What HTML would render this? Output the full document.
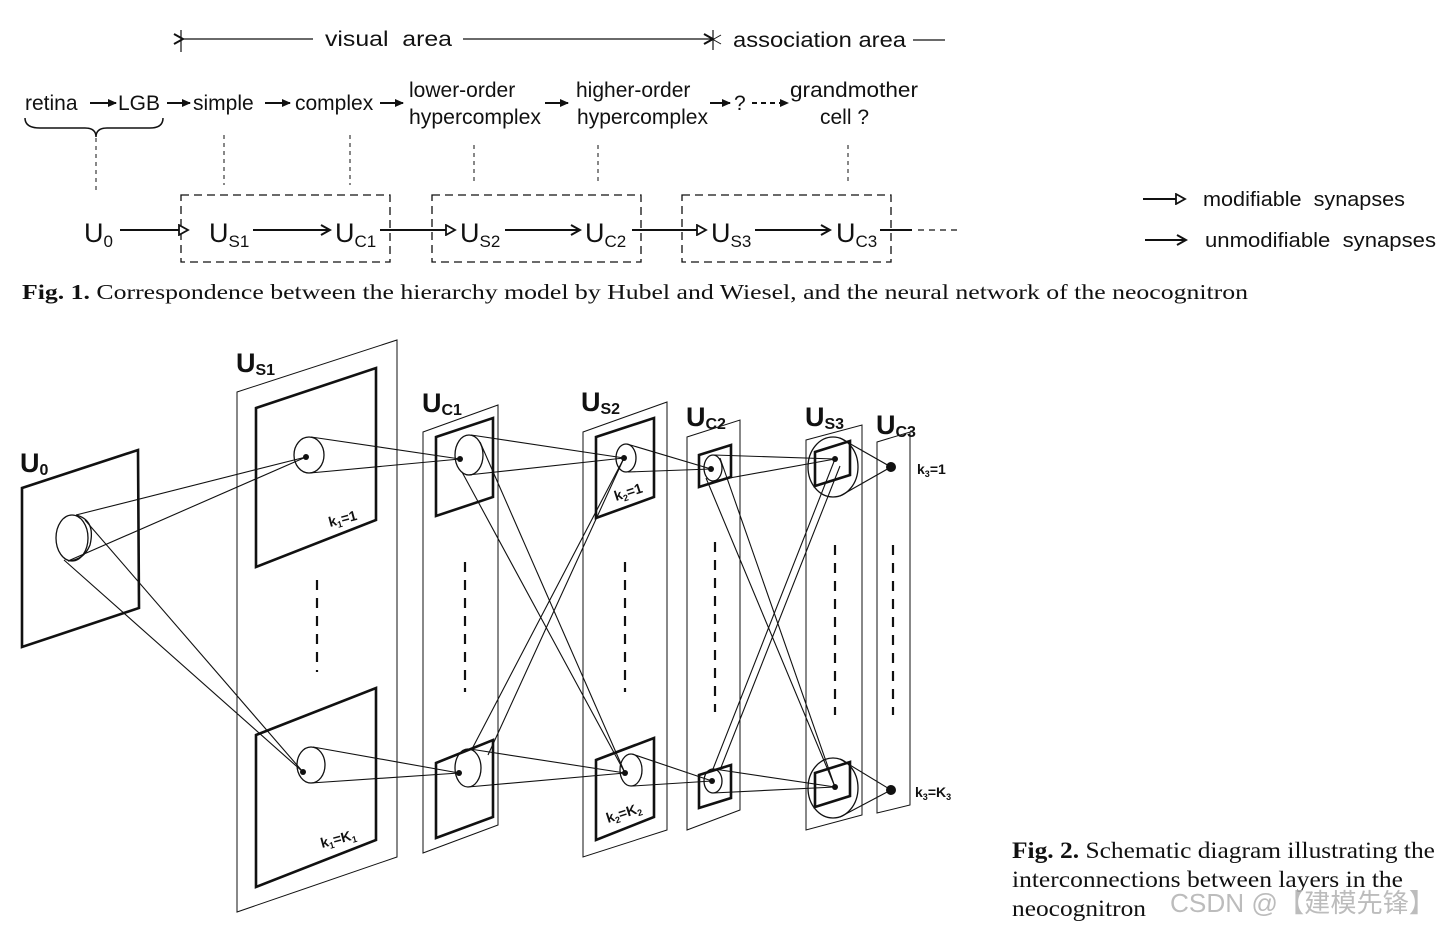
<!DOCTYPE html>
<html><head><meta charset="utf-8"><style>
html,body{margin:0;padding:0;background:#fff;}
svg{display:block}
.s{font-family:"Liberation Sans",sans-serif;fill:#111}
.r{font-family:"Liberation Serif",serif;fill:#111}
</style></head><body>
<svg width="1452" height="928" viewBox="0 0 1452 928" xmlns="http://www.w3.org/2000/svg">
<defs>
<marker id="open" markerWidth="12" markerHeight="12" refX="10" refY="6" orient="auto" markerUnits="userSpaceOnUse"><path d="M1,1 L10,6 L1,11 Z" fill="#fff" stroke="#111" stroke-width="1.8"/></marker>
<marker id="cl" markerWidth="12" markerHeight="12" refX="10" refY="6" orient="auto" markerUnits="userSpaceOnUse"><path d="M1,1 L10,6 L1,11" fill="none" stroke="#111" stroke-width="2"/></marker>
<marker id="sol" markerWidth="10" markerHeight="10" refX="8" refY="5" orient="auto" markerUnits="userSpaceOnUse"><path d="M0,1 L9,5 L0,9 Z" fill="#111"/></marker>
</defs>
<g stroke="#111" fill="none">
<line x1="181" y1="30" x2="181" y2="52" stroke-width="1.2"/>
<line x1="183" y1="39" x2="313" y2="39" stroke-width="1.2" marker-start="url(#cl)"/>
<line x1="463" y1="39" x2="713" y2="39" stroke-width="1.2" marker-end="url(#cl)"/>
<line x1="713" y1="30" x2="713" y2="50" stroke-width="1.2"/>
<line x1="705" y1="35" x2="721" y2="44" stroke-width="1"/><line x1="705" y1="44" x2="721" y2="35" stroke-width="1"/>
<line x1="913" y1="40" x2="945" y2="40" stroke-width="1.2"/>
<g stroke-width="2" marker-end="url(#sol)">
<line x1="90" y1="103" x2="116" y2="103"/>
<line x1="167" y1="103" x2="190" y2="103"/>
<line x1="265" y1="103" x2="290" y2="103"/>
<line x1="380" y1="103" x2="403" y2="103"/>
<line x1="545" y1="103" x2="568" y2="103"/>
<line x1="710" y1="103" x2="730" y2="103"/>
<line x1="752" y1="103" x2="788" y2="103" stroke-dasharray="5,4"/>
</g>
<path d="M25,118 Q25,128 40,128 L85,128 Q96,128 96,137 Q96,128 107,128 L150,128 Q163,128 163,118" stroke-width="1.5"/>
<g stroke-width="1" stroke-dasharray="4,4">
<line x1="96" y1="138" x2="96" y2="192"/>
<line x1="224" y1="135" x2="224" y2="185"/>
<line x1="350" y1="135" x2="350" y2="185"/>
<line x1="474" y1="145" x2="474" y2="183"/>
<line x1="598" y1="145" x2="598" y2="183"/>
<line x1="848" y1="145" x2="848" y2="183"/>
</g>
<g stroke-width="1.3" stroke-dasharray="8,5">
<rect x="181" y="195" width="209" height="67"/>
<rect x="432" y="195" width="209" height="67"/>
<rect x="682" y="195" width="209" height="67"/>
</g>
<g stroke-width="2">
<line x1="120" y1="230" x2="188" y2="230" marker-end="url(#open)"/>
<line x1="253" y1="230" x2="330" y2="230" marker-end="url(#cl)"/>
<line x1="380" y1="230" x2="455" y2="230" marker-end="url(#open)"/>
<line x1="505" y1="230" x2="580" y2="230" marker-end="url(#cl)"/>
<line x1="632" y1="230" x2="706" y2="230" marker-end="url(#open)"/>
<line x1="755" y1="230" x2="830" y2="230" marker-end="url(#cl)"/>
<line x1="880" y1="230" x2="912" y2="230"/>
<line x1="918" y1="230" x2="962" y2="230" stroke-width="1.3" stroke-dasharray="6,5"/>
<line x1="1143" y1="199" x2="1185" y2="199" marker-end="url(#open)"/>
<line x1="1145" y1="240" x2="1186" y2="240" marker-end="url(#cl)"/>
</g>
</g>
<g class="s" font-size="21">
<text x="325" y="46" textLength="127" lengthAdjust="spacingAndGlyphs">visual&#160; area</text>
<text x="733" y="47" textLength="173" lengthAdjust="spacingAndGlyphs">association area</text>
<text x="25" y="110">retina</text>
<text x="118" y="110">LGB</text>
<text x="193" y="110">simple</text>
<text x="295" y="110">complex</text>
<text x="409" y="97">lower-order</text>
<text x="409" y="124" textLength="132" lengthAdjust="spacingAndGlyphs">hypercomplex</text>
<text x="576" y="97">higher-order</text>
<text x="577" y="124" textLength="131" lengthAdjust="spacingAndGlyphs">hypercomplex</text>
<text x="734" y="110">?</text>
<text x="790" y="97" textLength="128" lengthAdjust="spacingAndGlyphs">grandmother</text>
<text x="820" y="124">cell ?</text>
<text x="1203" y="206" font-size="20" textLength="202" lengthAdjust="spacingAndGlyphs">modifiable&#160; synapses</text>
<text x="1205" y="247" font-size="20" textLength="231" lengthAdjust="spacingAndGlyphs">unmodifiable&#160; synapses</text>
</g>
<g class="s" font-size="27">
<text x="84" y="242">U<tspan font-size="17" dy="5">0</tspan></text>
<text x="209" y="242">U<tspan font-size="17" dy="5">S1</tspan></text>
<text x="335" y="242">U<tspan font-size="17" dy="5">C1</tspan></text>
<text x="460" y="242">U<tspan font-size="17" dy="5">S2</tspan></text>
<text x="585" y="242">U<tspan font-size="17" dy="5">C2</tspan></text>
<text x="711" y="242">U<tspan font-size="17" dy="5">S3</tspan></text>
<text x="836" y="242">U<tspan font-size="17" dy="5">C3</tspan></text>
</g>
<text class="r" x="22" y="299" font-size="21" textLength="1226" lengthAdjust="spacingAndGlyphs"><tspan font-weight="bold">Fig. 1.</tspan> Correspondence between the hierarchy model by Hubel and Wiesel, and the neural network of the neocognitron</text>

<g stroke="#111" fill="none">
<g stroke-width="1">
<polygon points="237,392 397,340 397,857 237,912"/>
<polygon points="423,432 498,405 498,825 423,853"/>
<polygon points="583,432 667,402 667,830 583,857"/>
<polygon points="687,437 740,420 740,810 687,830"/>
<polygon points="806,440 862,425 862,815 806,830"/>
<polygon points="877,442 910,432 910,805 877,813"/>
</g>
<g stroke-width="2.6">
<polygon points="22,488 138,450 139,608 22,647"/>
<polygon points="256,408 376,368 376,520 256,567"/>
<polygon points="256,735 376,688 376,840 256,887"/>
<polygon points="436,437 493,418 493,497 436,516"/>
<polygon points="436,763 493,740 493,817 436,838"/>
<polygon points="596,437 654,418 654,497 596,518"/>
<polygon points="596,760 654,738 654,817 596,840"/>
<polygon points="699,455 731,445 731,477 699,487"/>
<polygon points="699,775 731,765 731,798 699,808"/>
<polygon points="815,452 850,441 850,475 815,486"/>
<polygon points="815,773 850,762 850,796 815,807"/>
</g>
<g stroke-width="1.3">
<ellipse cx="72" cy="538" rx="16" ry="23"/>
<path d="M76,515 Q96,520 90,545 Q84,560 68,561"/>
<ellipse cx="309" cy="455" rx="15" ry="18"/>
<ellipse cx="311" cy="765" rx="14" ry="18"/>
<ellipse cx="469" cy="455" rx="14" ry="20"/>
<ellipse cx="468" cy="768" rx="13" ry="19"/>
<ellipse cx="626" cy="458" rx="10" ry="14"/>
<ellipse cx="631" cy="770" rx="11" ry="16"/>
<ellipse cx="713" cy="468" rx="9" ry="13"/>
<ellipse cx="713" cy="781" rx="9" ry="12"/>
<ellipse cx="833" cy="467" rx="25" ry="30"/>
<ellipse cx="833" cy="788" rx="25" ry="30"/>
</g>
<g stroke-width="1.1">
<line x1="76" y1="515" x2="306" y2="457"/><line x1="68" y1="561" x2="306" y2="457"/>
<line x1="85" y1="520" x2="303" y2="772"/><line x1="64" y1="560" x2="303" y2="772"/>
<line x1="311" y1="437" x2="460" y2="459"/><line x1="310" y1="473" x2="460" y2="459"/>
<line x1="313" y1="747" x2="459" y2="773"/><line x1="311" y1="783" x2="459" y2="773"/>
<line x1="471" y1="435" x2="624" y2="458"/><line x1="468" y1="475" x2="624" y2="458"/>
<line x1="480" y1="442" x2="625" y2="773"/><line x1="462" y1="472" x2="625" y2="773"/>
<line x1="472" y1="749" x2="624" y2="458"/><line x1="488" y1="755" x2="624" y2="458"/>
<line x1="470" y1="749" x2="625" y2="773"/><line x1="468" y1="787" x2="625" y2="773"/>
<line x1="627" y1="444" x2="711" y2="469"/><line x1="628" y1="472" x2="711" y2="469"/>
<line x1="632" y1="754" x2="712" y2="781"/><line x1="633" y1="786" x2="712" y2="781"/>
<line x1="714" y1="455" x2="835" y2="459"/><line x1="713" y1="481" x2="835" y2="459"/>
<line x1="720" y1="458" x2="835" y2="787"/><line x1="706" y1="478" x2="835" y2="787"/>
<line x1="713" y1="769" x2="835" y2="459"/><line x1="720" y1="770" x2="840" y2="466"/>
<line x1="714" y1="769" x2="835" y2="787"/><line x1="713" y1="793" x2="835" y2="787"/>
<line x1="840" y1="438" x2="891" y2="467"/><line x1="840" y1="496" x2="891" y2="467"/>
<line x1="840" y1="759" x2="891" y2="790"/><line x1="840" y1="817" x2="891" y2="790"/>
</g>
<g stroke-width="2.2" stroke-dasharray="10,8">
<line x1="317" y1="580" x2="317" y2="672"/>
<line x1="465" y1="562" x2="465" y2="692"/>
<line x1="625" y1="562" x2="625" y2="692"/>
<line x1="715" y1="542" x2="715" y2="712"/>
<line x1="835" y1="545" x2="835" y2="715"/>
<line x1="893" y1="545" x2="893" y2="715"/>
</g>
</g>
<g fill="#111">
<circle cx="306" cy="457" r="3"/><circle cx="303" cy="772" r="3"/>
<circle cx="460" cy="459" r="3"/><circle cx="459" cy="773" r="3"/>
<circle cx="624" cy="458" r="3"/><circle cx="625" cy="773" r="3"/>
<circle cx="711" cy="469" r="3"/><circle cx="712" cy="781" r="3"/>
<circle cx="835" cy="459" r="3"/><circle cx="835" cy="787" r="3"/>
<circle cx="891" cy="467" r="5"/><circle cx="891" cy="790" r="5"/>
</g>
<g class="s" font-size="27" font-weight="bold">
<text x="20" y="472">U<tspan font-size="16" dy="3">0</tspan></text>
<text x="236" y="372">U<tspan font-size="16" dy="3">S1</tspan></text>
<text x="422" y="412">U<tspan font-size="16" dy="3">C1</tspan></text>
<text x="581" y="411">U<tspan font-size="16" dy="3">S2</tspan></text>
<text x="686" y="426">U<tspan font-size="16" dy="3">C2</tspan></text>
<text x="805" y="426">U<tspan font-size="16" dy="3">S3</tspan></text>
<text x="876" y="434">U<tspan font-size="16" dy="3">C3</tspan></text>
</g>
<g class="s" font-size="14" font-weight="bold">
<text x="330" y="527" transform="rotate(-15 330 527)">k<tspan font-size="9" dy="3">1</tspan><tspan dy="-3">=1</tspan></text>
<text x="322" y="848" transform="rotate(-15 322 848)">k<tspan font-size="9" dy="3">1</tspan><tspan dy="-3">=K</tspan><tspan font-size="9" dy="3">1</tspan></text>
<text x="616" y="501" transform="rotate(-18 616 501)">k<tspan font-size="9" dy="3">2</tspan><tspan dy="-3">=1</tspan></text>
<text x="608" y="823" transform="rotate(-18 608 823)">k<tspan font-size="9" dy="3">2</tspan><tspan dy="-3">=K</tspan><tspan font-size="9" dy="3">2</tspan></text>
<text x="917" y="474">k<tspan font-size="9" dy="3">3</tspan><tspan dy="-3">=1</tspan></text>
<text x="915" y="797">k<tspan font-size="9" dy="3">3</tspan><tspan dy="-3">=K</tspan><tspan font-size="9" dy="3">3</tspan></text>
</g>
<g class="r" font-size="23">
<text x="1012" y="858" textLength="423" lengthAdjust="spacingAndGlyphs"><tspan font-weight="bold">Fig. 2.</tspan> Schematic diagram illustrating the</text>
<text x="1012" y="887" textLength="391" lengthAdjust="spacingAndGlyphs">interconnections between layers in the</text>
<text x="1012" y="916" textLength="134" lengthAdjust="spacingAndGlyphs">neocognitron</text>
</g>
<text x="1170" y="912" font-family="'Liberation Sans','Noto Sans CJK SC',sans-serif" font-size="26" fill="#b0b0b0" fill-opacity="0.85" textLength="265" lengthAdjust="spacingAndGlyphs">CSDN @【建模先锋】</text>
</svg>
</body></html>
